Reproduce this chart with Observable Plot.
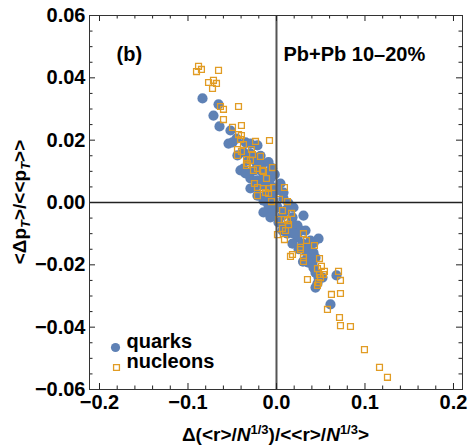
<!DOCTYPE html>
<html><head><meta charset="utf-8">
<script src="https://cdn.jsdelivr.net/npm/d3@7"></script>
<script src="https://cdn.jsdelivr.net/npm/@observablehq/plot@0.6"></script>
<style>
body{margin:0;background:#fff;}
#chart{position:relative;width:469px;height:445px;}
</style></head><body><div id="chart"></div>
<script>
const quarkX = [-0.0836,-0.0655,-0.0712,-0.0644,-0.0520,-0.0497,-0.0542,-0.0452,-0.0350,-0.0294,-0.0215,-0.0441,-0.0373,-0.0294,-0.0237,-0.0316,-0.0226,-0.0158,-0.0373,-0.0407,-0.0316,-0.0249,-0.0181,-0.0124,-0.0294,-0.0215,-0.0147,-0.0068,-0.0350,-0.0237,-0.0147,-0.0068,0.0045,-0.0294,-0.0215,-0.0124,-0.0045,0.0079,-0.0147,-0.0034,0.0079,-0.0090,0.0000,0.0136,0.0011,-0.0034,0.0192,-0.0147,-0.0045,0.0068,0.0181,0.0305,-0.0068,0.0102,0.0023,0.0181,0.0237,0.0124,0.0068,0.0181,0.0271,0.0328,0.0124,0.0237,0.0475,0.0384,0.0181,0.0294,0.0384,0.0328,0.0418,0.0350,0.0441,0.0407,0.0362,0.0418,0.0441,0.0475,0.0520,0.0463,0.0441,0.0678,0.0610,-0.0050,-0.0020,-0.0090,0.0010,0.0250,0.0200,0.0420,0.0300,-0.0260,-0.0180];
const quarkY = [0.0334,0.0315,0.0279,0.0244,0.0231,0.0193,0.0189,0.0205,0.0193,0.0189,0.0183,0.0151,0.0161,0.0157,0.0144,0.0135,0.0128,0.0125,0.0109,0.0103,0.0093,0.0103,0.0103,0.0096,0.0077,0.0071,0.0080,0.0077,0.0093,0.0051,0.0055,0.0055,0.0061,0.0045,0.0022,0.0022,0.0029,0.0032,0.0006,0.0006,0.0013,-0.0010,-0.0010,-0.0003,-0.0016,-0.0016,-0.0016,-0.0032,-0.0032,-0.0042,-0.0048,-0.0042,-0.0048,-0.0026,-0.0064,-0.0067,-0.0074,-0.0074,-0.0090,-0.0083,-0.0090,-0.0090,-0.0100,-0.0112,-0.0116,-0.0122,-0.0132,-0.0132,-0.0138,-0.0154,-0.0161,-0.0177,-0.0177,-0.0193,-0.0193,-0.0209,-0.0225,-0.0241,-0.0241,-0.0260,-0.0273,-0.0234,-0.0327,0.0110,0.0090,0.0130,0.0040,-0.0150,-0.0100,-0.0130,-0.0190,0.0140,0.0150];
const nucleonX = [-0.0881,-0.0904,-0.0848,-0.0655,-0.0768,-0.0712,-0.0678,-0.0723,-0.0633,-0.0599,-0.0429,-0.0599,-0.0497,-0.0396,-0.0429,-0.0396,-0.0407,-0.0373,-0.0237,-0.0079,-0.0441,-0.0396,-0.0283,-0.0271,-0.0181,-0.0441,-0.0339,-0.0294,-0.0339,-0.0045,-0.0215,-0.0158,-0.0147,-0.0260,-0.0328,-0.0113,-0.0249,-0.0215,-0.0147,-0.0090,-0.0034,0.0090,-0.0124,-0.0090,-0.0215,-0.0056,0.0034,0.0124,0.0068,0.0170,0.0023,0.0090,0.0124,0.0136,0.0068,0.0102,0.0011,0.0090,0.0305,0.0339,0.0429,0.0271,0.0271,0.0181,0.0158,0.0305,0.0305,0.0486,0.0508,0.0463,0.0542,0.0701,0.0486,0.0531,0.0497,0.0350,0.0723,0.0475,0.0463,0.0621,0.0723,0.0576,0.0712,0.0723,0.0836,0.0994,0.1164,0.1254];
const nucleonY = [0.0437,0.0420,0.0427,0.0424,0.0385,0.0392,0.0382,0.0366,0.0308,0.0299,0.0308,0.0266,0.0241,0.0247,0.0218,0.0215,0.0202,0.0186,0.0196,0.0199,0.0170,0.0164,0.0170,0.0154,0.0148,0.0151,0.0138,0.0135,0.0119,0.0112,0.0109,0.0103,0.0100,0.0103,0.0125,0.0077,0.0061,0.0048,0.0045,0.0045,0.0048,0.0048,0.0032,0.0029,0.0022,0.0003,0.0010,0.0003,-0.0026,-0.0035,-0.0055,-0.0055,-0.0058,-0.0071,-0.0083,-0.0090,-0.0103,-0.0119,-0.0100,-0.0122,-0.0138,-0.0144,-0.0151,-0.0167,-0.0173,-0.0177,-0.0189,-0.0180,-0.0205,-0.0212,-0.0221,-0.0221,-0.0231,-0.0231,-0.0241,-0.0247,-0.0250,-0.0257,-0.0266,-0.0295,-0.0292,-0.0343,-0.0369,-0.0395,-0.0398,-0.0472,-0.0529,-0.0561];
const xTicks = [-0.2,-0.1,0,0.1,0.2];
const xMinor = [-0.18,-0.16,-0.14,-0.12,-0.08,-0.06,-0.04,-0.02,0.02,0.04,0.06,0.08,0.12,0.14,0.16,0.18];
const yTicks = [-0.06,-0.04,-0.02,0,0.02,0.04,0.06];
const yMinor = [-0.055,-0.05,-0.045,-0.035,-0.03,-0.025,-0.015,-0.01,-0.005,0.005,0.01,0.015,0.025,0.03,0.035,0.045,0.05,0.055];
const seriesNames = ["quarks","nucleons"];
const panelLabel = "(b)";
const systemLabel = "Pb+Pb 10–20%";

const quarks = quarkX.map((x,i)=>({x, y: quarkY[i]}));
const nucleons = nucleonX.map((x,i)=>({x, y: nucleonY[i]}));

const W=469,H=445,mL=89,mR=7,mT=15,mB=56;
const fh=H-mT-mB, fw=W-mL-mR;
const font="'Liberation Sans', Arial, sans-serif";
const blue="#5E81B5", orange="#E19C24";
const txt={fontSize:20,fontWeight:"bold",fill:"#000"};

const plot = Plot.plot({
  width:W,height:H,marginLeft:mL,marginRight:mR,marginTop:mT,marginBottom:mB,
  style:{fontFamily:font,background:"#fff",color:"#000"},
  x:{domain:[-0.2113,0.2102]}, y:{domain:[-0.06,0.06]},
  marks:[
    Plot.dot(quarks,{x:"x",y:"y",r:5.1,fill:blue,stroke:"none"}),
    Plot.dot(nucleons,{x:"x",y:"y",r:3.3,symbol:"square",stroke:orange,strokeWidth:1.3,fill:"none"}),
    Plot.ruleX([0],{stroke:"#555",strokeWidth:2}),
    Plot.ruleY([0],{stroke:"#222",strokeWidth:1.5}),
    Plot.ruleX(xTicks,{insetTop:fh-6,stroke:"#222"}),
    Plot.ruleX(xTicks,{insetBottom:fh-6,stroke:"#222"}),
    Plot.ruleX(xMinor,{insetTop:fh-3.5,stroke:"#222"}),
    Plot.ruleX(xMinor,{insetBottom:fh-3.5,stroke:"#222"}),
    Plot.ruleY(yTicks,{insetRight:fw-6,stroke:"#222"}),
    Plot.ruleY(yTicks,{insetLeft:fw-6,stroke:"#222"}),
    Plot.ruleY(yMinor,{insetRight:fw-3.5,stroke:"#222"}),
    Plot.ruleY(yMinor,{insetLeft:fw-3.5,stroke:"#222"}),
    Plot.frame({stroke:"#333"}),
    Plot.axisX(xTicks,{tickSize:0,tickPadding:5,tickFormat:d3.format(".1f"),fontSize:20,fontWeight:"bold",label:null}),
    Plot.axisY(yTicks,{tickSize:0,tickPadding:4,tickFormat:d3.format(".2f"),fontSize:20,fontWeight:"bold",label:null}),
    Plot.text([panelLabel],{text:d=>d,frameAnchor:"top-left",dx:27,dy:31,textAnchor:"start",...txt}),
    Plot.text([systemLabel],{text:d=>d,frameAnchor:"top-left",dx:194,dy:31,textAnchor:"start",...txt}),
    Plot.dot([seriesNames[0]],{frameAnchor:"bottom-left",dx:26,dy:-42,r:4.6,fill:blue}),
    Plot.dot([seriesNames[1]],{frameAnchor:"bottom-left",dx:27,dy:-22,r:3.3,symbol:"square",stroke:orange,strokeWidth:1.3,fill:"none"}),
    Plot.text([seriesNames[0]],{text:d=>d,frameAnchor:"bottom-left",dx:37,dy:-42,textAnchor:"start",...txt}),
    Plot.text([seriesNames[1]],{text:d=>d,frameAnchor:"bottom-left",dx:37,dy:-22,textAnchor:"start",...txt})
  ]
});
document.getElementById("chart").appendChild(plot);

const svg=d3.select(plot);
const xl=svg.append("text").attr("x",mL+fw/2).attr("y",441).attr("text-anchor","middle")
  .style("font-size","19px").style("font-weight","bold").style("font-family",font).style("fill","#000");
xl.append("tspan").text("Δ(<r>/");
xl.append("tspan").style("font-style","italic").text("N");
xl.append("tspan").style("font-size","13px").attr("dy",-7).text("1/3");
xl.append("tspan").attr("dy",7).text(")/<<r>/");
xl.append("tspan").style("font-style","italic").text("N");
xl.append("tspan").style("font-size","13px").attr("dy",-7).text("1/3");
xl.append("tspan").attr("dy",7).text(">");

const yl=svg.append("text").attr("transform",`translate(26,${mT+fh/2}) rotate(-90)`).attr("text-anchor","middle")
  .style("font-size","19px").style("font-weight","bold").style("font-family",font).style("fill","#000");
yl.append("tspan").text("<Δp");
yl.append("tspan").style("font-size","13px").style("font-style","italic").attr("dy",4).text("T");
yl.append("tspan").attr("dy",-4).text(">/<<p");
yl.append("tspan").style("font-size","13px").style("font-style","italic").attr("dy",4).text("T");
yl.append("tspan").attr("dy",-4).text(">>");
</script></body></html>
